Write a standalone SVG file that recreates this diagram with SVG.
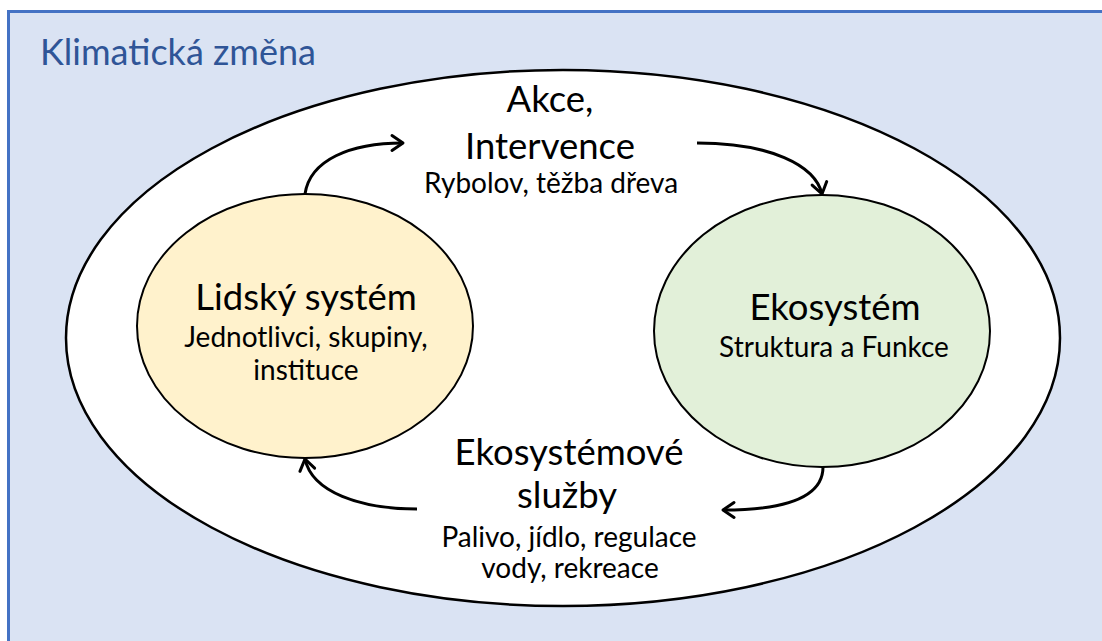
<svg xmlns="http://www.w3.org/2000/svg" width="1102" height="641" viewBox="0 0 1102 641">
<defs>
<style>
.txt{font-family:Lato,"Open Sans","Liberation Sans",sans-serif;fill:#000;text-anchor:middle}
.big{font-size:36.5px}
.small{font-size:28px}
.node{stroke:#000;stroke-width:2}
.conn{fill:none;stroke:#000;stroke-width:3}
</style>
<marker id="arr" markerUnits="userSpaceOnUse" markerWidth="20" markerHeight="20" refX="14" refY="10" orient="auto" overflow="visible">
<path d="M3,2.5 L14,10 L3,17.5" fill="none" stroke="#000" stroke-width="3" stroke-linecap="round" stroke-linejoin="round"/>
</marker>
</defs>
<g id="klima">
<rect x="8.5" y="11.5" width="1110" height="650" fill="#DAE3F3" stroke="#4472C4" stroke-width="3"/>
<text x="40" y="65" style="font-family:Lato,'Open Sans','Liberation Sans',sans-serif;font-size:36px;fill:#2F5597">Klimatická změna</text>
</g>
<g id="outer">
<ellipse cx="563" cy="338" rx="497" ry="268" fill="#fff" stroke="#000" stroke-width="2.5"/>
</g>
<g id="lidsky">
<ellipse class="node" cx="305" cy="326" rx="168" ry="132" fill="#FFF2CC"/>
<text class="txt big" x="306" y="310">Lidský systém</text>
<text class="txt small" x="306" y="347">Jednotlivci, skupiny,</text>
<text class="txt small" x="306" y="380">instituce</text>
</g>
<g id="ekosystem">
<ellipse class="node" cx="822" cy="331" rx="168" ry="136" fill="#E2F0D9"/>
<text class="txt big" x="835" y="320">Ekosystém</text>
<text class="txt small" x="834" y="357">Struktura a Funkce</text>
</g>
<g id="akce">
<text class="txt big" x="550" y="112">Akce,</text>
<text class="txt big" x="550" y="159">Intervence</text>
<text class="txt small" x="551" y="193">Rybolov, těžba dřeva</text>
</g>
<g id="sluzby">
<text class="txt big" x="569" y="465">Ekosystémové</text>
<text class="txt big" x="567" y="508">služby</text>
<text class="txt small" x="569" y="547">Palivo, jídlo, regulace</text>
<text class="txt small" x="570" y="578">vody, rekreace</text>
</g>
<g id="connectors">
<path class="conn" d="M305,194 C310,160 350,143 403,143" marker-end="url(#arr)"/>
<path class="conn" d="M697,143 C770,143 815,165 822,194" marker-end="url(#arr)"/>
<path class="conn" d="M823,467 C823,495 790,510 723,510" marker-end="url(#arr)"/>
<path class="conn" d="M417,509 C360,509 312,492 305,459" marker-end="url(#arr)"/>
</g>
</svg>
